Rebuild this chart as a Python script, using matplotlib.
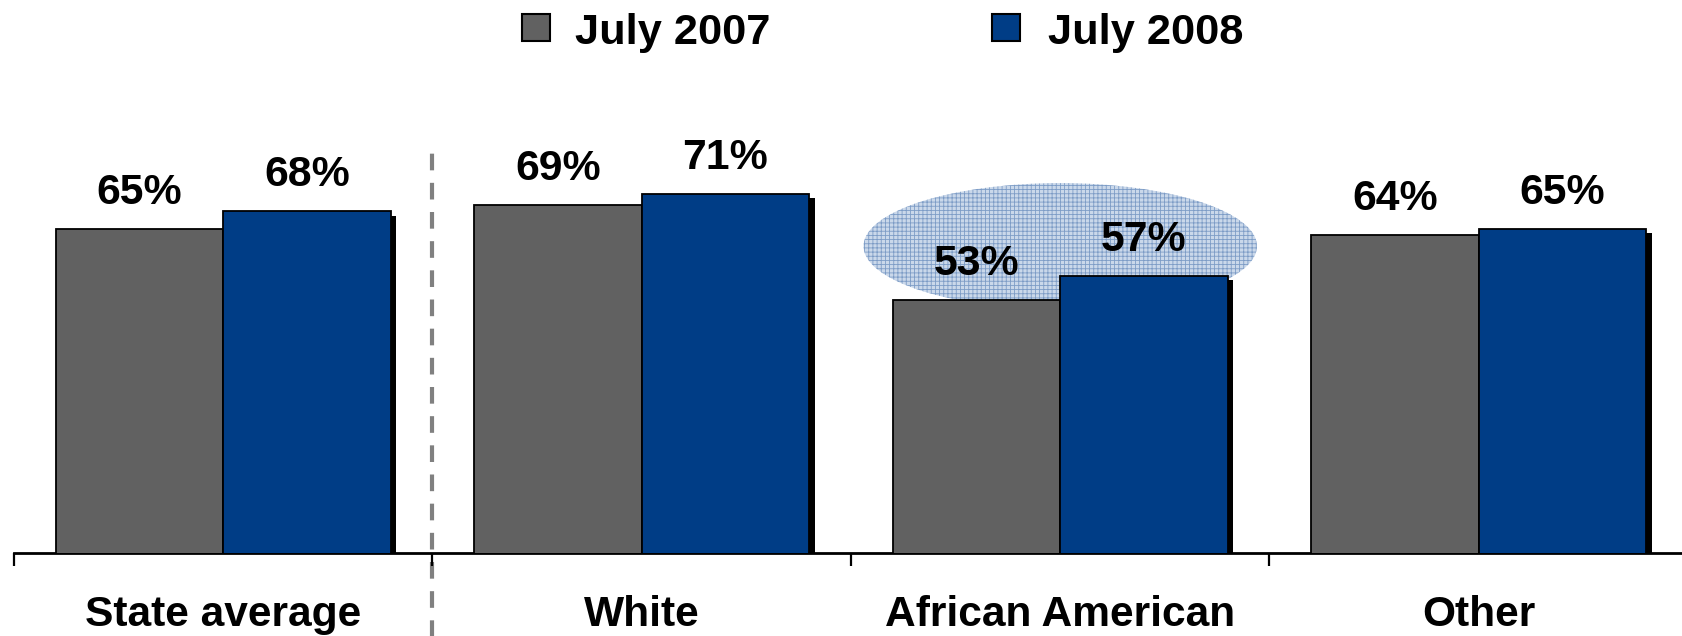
import matplotlib
matplotlib.use("Agg")
import matplotlib.pyplot as plt
import matplotlib.transforms as mtransforms
from matplotlib.patches import Ellipse, Rectangle
import matplotlib.patheffects as pe
import numpy as np

categories = ["State average", "White", "African American", "Other"]
series_names = ["July 2007", "July 2008"]
values_2007 = [65, 69, 53, 64]
values_2008 = [68, 71, 57, 65]
colors = ["#616161", "#003d86"]

plt.rcParams['font.family'] = ['Liberation Sans', 'DejaVu Sans']
plt.rcParams['font.weight'] = 'bold'
plt.rcParams['hatch.linewidth'] = 0.6

W, H = 1682, 636
fig = plt.figure(figsize=(W / 100, H / 100), dpi=100)
ax_left, ax_right = 14, 1688
ax_bottom = 83
ax = fig.add_axes([ax_left / W, ax_bottom / H, (ax_right - ax_left) / W, (H - ax_bottom) / H])

x = np.arange(len(categories))
bw = 0.4
shadow = [pe.SimplePatchShadow(offset=(4, -3), shadow_rgbFace='black', alpha=1.0), pe.Normal()]
b1 = ax.bar(x - bw / 2, values_2007, bw, color=colors[0], edgecolor='black', linewidth=1.3, zorder=3)
b2 = ax.bar(x + bw / 2, values_2008, bw, color=colors[1], edgecolor='black', linewidth=1.3, zorder=4)
for b in list(b1) + list(b2):
    b.set_path_effects(shadow)

for bars, vals in ((b1, values_2007), (b2, values_2008)):
    for b, v in zip(bars, vals):
        ax.annotate(f"{v}%", (b.get_x() + b.get_width() / 2, v), xytext=(0, 18),
                    textcoords='offset points', ha='center', va='baseline',
                    fontsize=30.8, fontweight='bold', zorder=6)

# highlight ellipse around African American
ell = Ellipse((2, 62.1), 0.94, 21.4, facecolor='#cad8ea', edgecolor='#7d9cc6',
              hatch='++++', linewidth=0, zorder=2)
ax.add_patch(ell)

ax.set_xlim(-0.5, 3.5)
ax.set_ylim(10, 10 + 553 / 5.89)
for s in ('left', 'top', 'right'):
    ax.spines[s].set_visible(False)
ax.spines['bottom'].set_linewidth(2.0)
ax.set_yticks([])
ax.set_xticks(np.arange(-0.5, 4.0, 1.0))
ax.set_xticklabels([])
ax.tick_params(axis='x', direction='out', length=9, width=1.6, color='black')

trans = mtransforms.blended_transform_factory(ax.transData, ax.transAxes)
for i, c in enumerate(categories):
    ax.text(i, -73 / 553, c, transform=trans, ha='center', va='baseline',
            fontsize=30.6, fontweight='bold', clip_on=False)

# dashed separator
ax.plot([0.5, 0.5], [-0.16, (553 - 150) / 553], transform=trans, color='#808080',
        linewidth=3, linestyle=(0, (4, 3)), clip_on=False, zorder=1)

# legend
for name, col, mx, tx in ((series_names[0], colors[0], 522, 575), (series_names[1], colors[1], 992, 1048)):
    fig.patches.append(Rectangle((mx / W, (H - 41) / H), 28 / W, 27 / H, transform=fig.transFigure,
                                 facecolor=col, edgecolor='black', linewidth=1.5))
    fig.text(tx / W, (H - 44) / H, name, ha='left', va='baseline', fontsize=31.2, fontweight='bold')

fig.savefig("out.png", dpi=100)
